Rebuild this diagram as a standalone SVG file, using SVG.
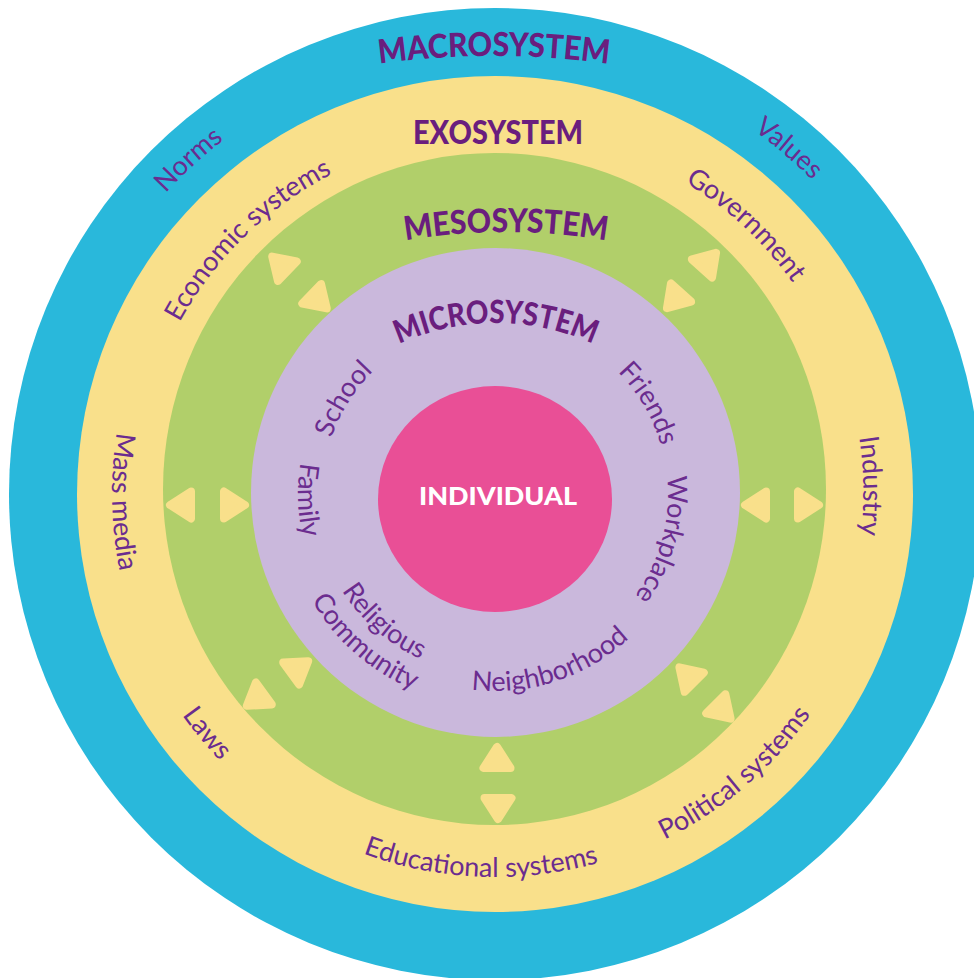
<svg xmlns="http://www.w3.org/2000/svg" width="974" height="978" viewBox="0 0 974 978">
<style>
.title{font-family:Lato,"Open Sans","DejaVu Sans",sans-serif;font-weight:900;fill:#6A1E7E;}
.lbl{font-family:Lato,"Liberation Sans",sans-serif;font-size:27px;fill:#6B2C8F;}
.arr{fill:#F9E08B;stroke:#F9E08B;stroke-width:8;stroke-linejoin:round;}
</style>
<defs>
<path id="p-macro" d="M344,69.3 A850,850 0 0 1 644,69.3"/>
<path id="p-meso" d="M376,246.3 A600,600 0 0 1 636,246.3"/>
<path id="p-micro" d="M366,362.4 A234,234 0 0 1 626,362.4"/>
<path id="p-norms" d="M69.6,359.9 A446,446 0 0 1 398.5,58.6"/>
<path id="p-values" d="M575.5,55.3 A446,446 0 0 1 915.2,343.7"/>
<path id="p-econ" d="M137.8,457.7 A359,359 0 0 1 468.7,136.0"/>
<path id="p-gov" d="M514.0,129.5 A365,365 0 0 1 857.3,449.5"/>
<path id="p-mass" d="M196.5,253.9 A383,383 0 0 0 206.9,746.3"/>
<path id="p-ind" d="M772.7,250.9 A367,367 0 0 1 781.0,724.0"/>
<path id="p-laws" d="M117.5,558.6 A383,383 0 0 0 362.1,853.3"/>
<path id="p-edu" d="M237.7,777.7 A383,383 0 0 0 729.7,796.7"/>
<path id="p-pol" d="M499.0,879.0 A385,385 0 0 0 874.8,556.8"/>
<path id="p-school" d="M330.4,547.2 A173,173 0 0 1 471.2,322.7"/>
<path id="p-friends" d="M523.5,323.4 A173,173 0 0 1 658.1,551.7"/>
<path id="p-family" d="M340.2,372.2 A197,197 0 0 0 348.1,625.3"/>
<path id="p-work" d="M636.9,395.0 A173,173 0 0 1 567.9,650.9"/>
<path id="p-relig" d="M314.0,490.9 A181,181 0 0 0 523.3,672.8"/>
<path id="p-comm" d="M283.1,489.2 A212,212 0 0 0 527.1,703.6"/>
<path id="p-neigh" d="M390.6,661.0 A197,197 0 0 0 677.7,567.8"/>
<polygon id="tri" points="15,0 -6,-13.5 -6,13.5"/>
</defs>
<rect width="974" height="978" fill="#ffffff"/>
<g id="macrosystem">
<circle cx="495" cy="494" r="486" fill="#29B8DB"/>
<text class="title" font-size="33"><textPath href="#p-macro" startOffset="50%" text-anchor="middle" textLength="230" lengthAdjust="spacingAndGlyphs">MACROSYSTEM</textPath></text>
<text class="lbl"><textPath href="#p-norms" startOffset="50%" text-anchor="middle">Norms</textPath></text>
<text class="lbl"><textPath href="#p-values" startOffset="50%" text-anchor="middle">Values</textPath></text>
</g>
<g id="exosystem">
<circle cx="495" cy="494" r="418" fill="#F9E08B"/>
<text class="title" font-size="33" x="498" y="144" text-anchor="middle" textLength="170" lengthAdjust="spacingAndGlyphs">EXOSYSTEM</text>
<text class="lbl"><textPath href="#p-econ" startOffset="50%" text-anchor="middle">Economic systems</textPath></text>
<text class="lbl"><textPath href="#p-gov" startOffset="50%" text-anchor="middle">Government</textPath></text>
<text class="lbl"><textPath href="#p-mass" startOffset="50%" text-anchor="middle">Mass media</textPath></text>
<text class="lbl"><textPath href="#p-ind" startOffset="50%" text-anchor="middle">Industry</textPath></text>
<text class="lbl"><textPath href="#p-laws" startOffset="50%" text-anchor="middle">Laws</textPath></text>
<text class="lbl"><textPath href="#p-edu" startOffset="50%" text-anchor="middle">Educational systems</textPath></text>
<text class="lbl"><textPath href="#p-pol" startOffset="50%" text-anchor="middle">Political systems</textPath></text>
</g>
<g id="mesosystem">
<ellipse cx="494.5" cy="489" rx="331.5" ry="336" fill="#B1CF6A"/>
<text class="title" font-size="33"><textPath href="#p-meso" startOffset="50%" text-anchor="middle" textLength="202" lengthAdjust="spacingAndGlyphs">MESOSYSTEM</textPath></text>
</g>
<g id="microsystem">
<circle cx="495.5" cy="492.5" r="244.5" fill="#CAB8DC"/>
<text class="title" font-size="32"><textPath href="#p-micro" startOffset="50%" text-anchor="middle" textLength="200" lengthAdjust="spacingAndGlyphs">MICROSYSTEM</textPath></text>
<text class="lbl"><textPath href="#p-school" startOffset="50%" text-anchor="middle">School</textPath></text>
<text class="lbl"><textPath href="#p-friends" startOffset="50%" text-anchor="middle">Friends</textPath></text>
<text class="lbl"><textPath href="#p-family" startOffset="50%" text-anchor="middle">Family</textPath></text>
<text class="lbl"><textPath href="#p-work" startOffset="50%" text-anchor="middle">Workplace</textPath></text>
<text class="lbl"><textPath href="#p-relig" startOffset="50%" text-anchor="middle">Religious</textPath></text>
<text class="lbl"><textPath href="#p-comm" startOffset="50%" text-anchor="middle">Community</textPath></text>
<text class="lbl"><textPath href="#p-neigh" startOffset="50%" text-anchor="middle">Neighborhood</textPath></text>
</g>
<g id="individual">
<ellipse cx="495" cy="499" rx="117" ry="113" fill="#E94F96"/>
<text class="title" font-size="25" x="498" y="505" text-anchor="middle" style="fill:#ffffff" textLength="158" lengthAdjust="spacingAndGlyphs">INDIVIDUAL</text>
</g>
<g id="connectors">
<use href="#tri" class="arr" transform="translate(185,505) rotate(180)"/>
<use href="#tri" class="arr" transform="translate(230,505)"/>
<use href="#tri" class="arr" transform="translate(760,505) rotate(180)"/>
<use href="#tri" class="arr" transform="translate(804,505)"/>
<use href="#tri" class="arr" transform="translate(497,762) rotate(-90)"/>
<use href="#tri" class="arr" transform="translate(498,804) rotate(90)"/>
<use href="#tri" class="arr" transform="translate(283,267) rotate(-136)"/>
<use href="#tri" class="arr" transform="translate(316,298) rotate(44)"/>
<use href="#tri" class="arr" transform="translate(706,264) rotate(-48)"/>
<use href="#tri" class="arr" transform="translate(677,297) rotate(132)"/>
<use href="#tri" class="arr" transform="translate(296,670) rotate(-36)"/>
<use href="#tri" class="arr" transform="translate(259,697) rotate(144)"/>
<use href="#tri" class="arr" transform="translate(690,678) rotate(-135)"/>
<use href="#tri" class="arr" transform="translate(720,708) rotate(45)"/>
</g>
</svg>
